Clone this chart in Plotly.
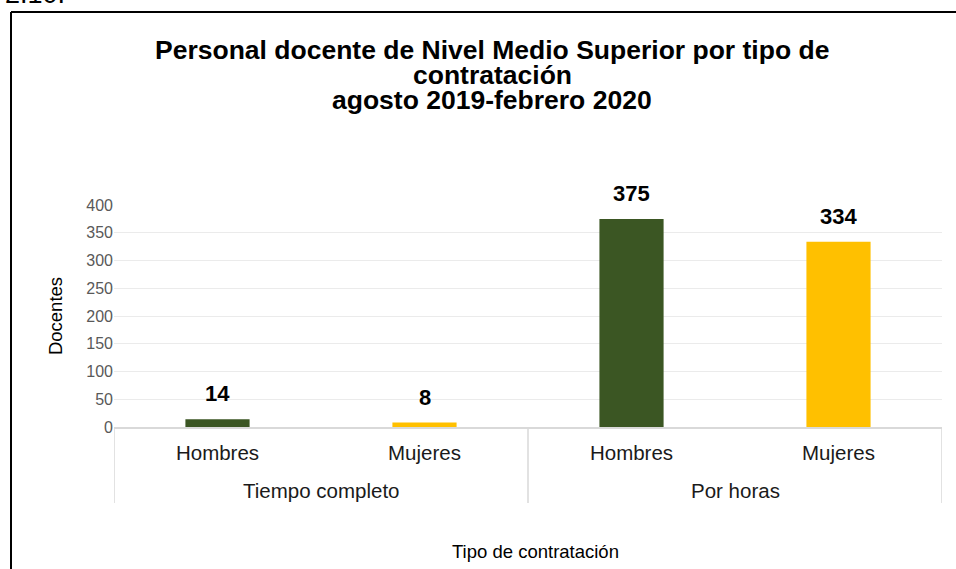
import plotly.graph_objs as go

# data
contratacion = ["Tiempo completo", "Tiempo completo", "Por horas", "Por horas"]
sexo = ["Hombres", "Mujeres", "Hombres", "Mujeres"]
docentes = [14, 8, 375, 334]
colores = ["#3B5623", "#FFC000", "#3B5623", "#FFC000"]

title_lines = ["Personal docente de Nivel Medio Superior por tipo de",
               "contratación",
               "agosto 2019-febrero 2020"]

FONT = "Liberation Sans, Arial, sans-serif"
W, H = 956, 569
L, R, T, B = 114, 14, 205, 142

# page pixel -> paper (paper = plot area)
def px_x(px):
    return (px - L) / (W - L - R)

def px_y(py):
    return (H - B - py) / (H - T - B)

idx = list(range(len(sexo)))

fig = go.Figure()

fig.add_trace(go.Bar(x=idx, y=docentes, width=0.31,
                     marker=dict(color=colores, line=dict(width=0)),
                     hovertext=["%s, %s" % (c, s) for c, s in zip(contratacion, sexo)],
                     hoverinfo="text+y", showlegend=False))

#value labels above the bars
for i, v in enumerate(docentes):
    fig.add_annotation(x=i, y=v, text="<b>%d</b>" % v, showarrow=False,
                       yanchor="bottom", yshift=11,
                       font=dict(family=FONT, size=22, color="#000000"))

#outer category row + dividers between the groups
groups = []
for i, c in enumerate(contratacion):
    if not groups or groups[-1][0] != c:
        groups.append([c, i, i])
    else:
        groups[-1][2] = i
for c, first, last in groups:
    fig.add_annotation(x=(first + last) / 2, yref="paper", y=px_y(490),
                       text=c, showarrow=False, yanchor="middle",
                       font=dict(family=FONT, size=20.5, color="#1a1a1a"))
edges = [g[1] - 0.5 for g in groups] + [groups[-1][2] + 0.5]
for e in edges:
    fig.add_shape(type="line", xref="x", yref="paper", x0=e, x1=e,
                  y0=0, y1=px_y(503), line=dict(color="#D9D9D9", width=1.5))

#title lines
for line, py in zip(title_lines, [50, 75, 100]):
    fig.add_annotation(xref="paper", yref="paper", x=px_x(492), y=px_y(py),
                       text="<b>%s</b>" % line, showarrow=False,
                       xanchor="center", yanchor="middle",
                       font=dict(family=FONT, size=26.5, color="#000000"))

#axis title bottom
fig.add_annotation(xref="paper", yref="paper", x=px_x(535), y=px_y(551),
                   text="Tipo de contratación", showarrow=False,
                   xanchor="center", yanchor="middle",
                   font=dict(family=FONT, size=18.5, color="#000000"))

#figure number, cut at the top of the page
fig.add_annotation(xref="paper", yref="paper", x=px_x(3), y=px_y(11),
                   text="2.10.", showarrow=False,
                   xanchor="left", yanchor="bottom",
                   font=dict(family=FONT, size=27, color="#000000"))

#frame (only top and left edges are inside the picture)
fig.add_shape(type="line", xref="paper", yref="paper",
              x0=px_x(11), x1=px_x(W + 20), y0=px_y(12), y1=px_y(12),
              line=dict(color="#000000", width=2))
fig.add_shape(type="line", xref="paper", yref="paper",
              x0=px_x(11), x1=px_x(11), y0=px_y(12), y1=px_y(H + 20),
              line=dict(color="#000000", width=2))

fig.update_layout(
    width=W, height=H,
    margin=dict(l=L, r=R, t=T, b=B),
    paper_bgcolor="white", plot_bgcolor="white",
    font=dict(family=FONT, color="#000000"),
    xaxis=dict(range=[-0.5, len(sexo) - 0.5], tickvals=idx, ticktext=sexo,
               tickfont=dict(family=FONT, size=20.5, color="#1a1a1a"),
               showline=True, linecolor="#D9D9D9", linewidth=1.5,
               showgrid=False, zeroline=False,
               ticks="outside", ticklen=7, tickcolor="rgba(0,0,0,0)"),
    yaxis=dict(range=[0, 400], dtick=50,
               tickfont=dict(family=FONT, size=16, color="#595959"),
               showgrid=True, gridcolor="#EBEBEB", gridwidth=1,
               zeroline=False, showline=False, ticks="",
               title=dict(text="Docentes", standoff=18,
                          font=dict(family=FONT, size=18.5, color="#000000"))),
)

# no body margin, so the figure sits at the page corner
fig.write_html("out.html", config={"displayModeBar": False},
               post_script="document.body.style.margin='0';"
                           "document.body.style.overflow='hidden';")
